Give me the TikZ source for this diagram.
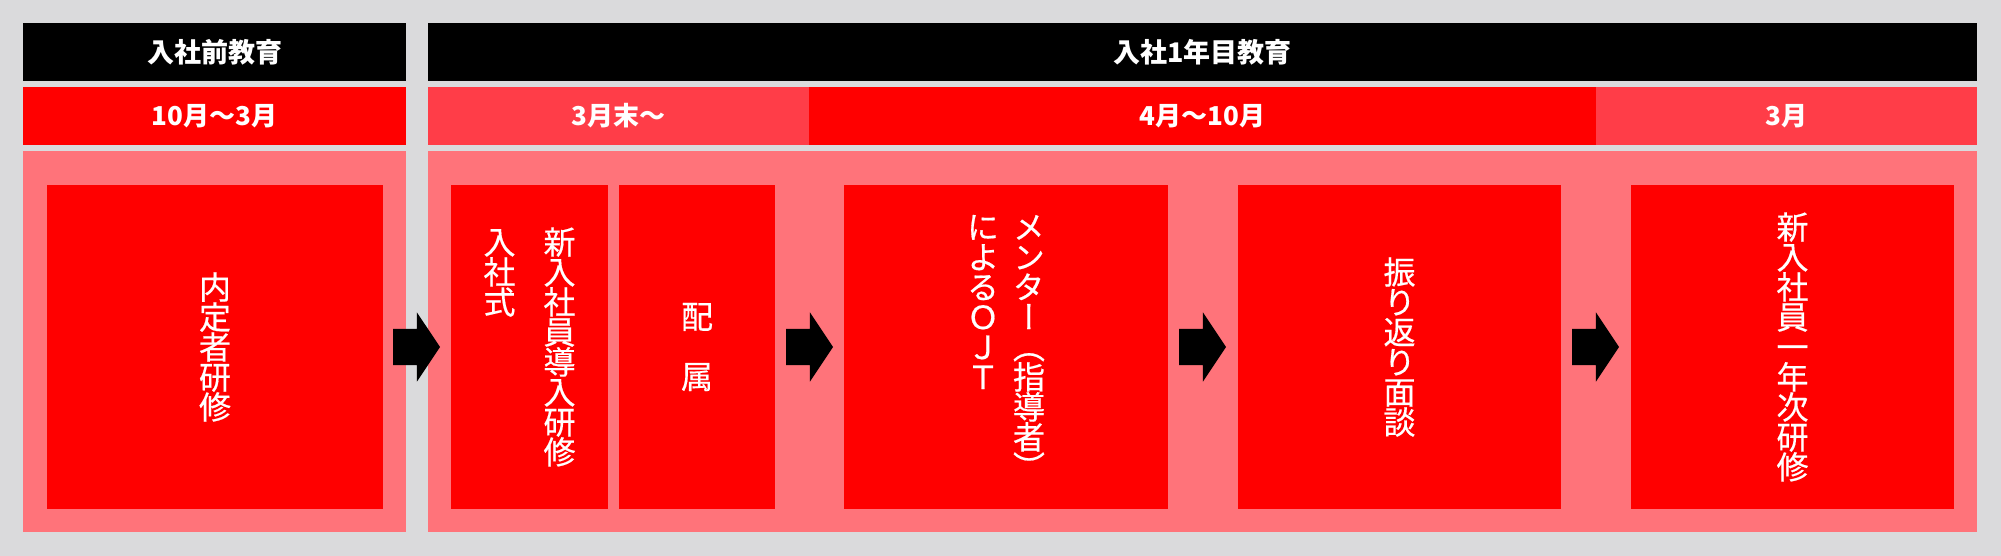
\documentclass[tikz,border=0pt]{standalone}
\usepackage{fontspec}
\newfontfamily\jpfont{Noto Sans CJK JP}
\newfontfamily\jptate[RawFeature=+vert,FakeBold=0.5]{Noto Sans CJK JP}
\usetikzlibrary{positioning,shapes.arrows}

\definecolor{bggray}{RGB}{218,218,220}
\definecolor{pinkbody}{RGB}{255,115,122}
\definecolor{lightred}{RGB}{255,61,72}

\newcommand{\tate}[1]{\vtop{\let\\\cr\baselineskip=30pt\lineskiplimit=-30pt\lineskip=0pt
    \halign{\hfil##\hfil\cr#1\cr}}}

\tikzset{
    every node/.style = {
        inner sep=0pt,
        outer sep=0pt,
        },
    title/.style = {
        fill = black,
        text = white,
        minimum height=58pt,
        font=\jpfont\bfseries\fontsize{27}{30}\selectfont,
        },
    period/.style = {
        fill = red,
        text = white,
        minimum height=58pt,
        font=\jpfont\bfseries\fontsize{26}{30}\selectfont,
        },
    period light/.style = {
        period,
        fill = lightred,
        },
    panel/.style = {
        fill = pinkbody,
        minimum height=381pt,
        },
    course/.style = {
        fill = red,
        text = white,
        minimum height=324pt,
        font=\jptate\fontsize{32}{30}\selectfont,
        },
    flow/.style = {
        single arrow,
        fill = black,
        inner xsep=0pt,
        inner ysep=18pt,
        minimum height=47pt,
        minimum width=69pt,
        single arrow head extend=16.5pt,
        single arrow tip angle=112.6,
    }
}

\begin{document}
\begin{tikzpicture}[x=1pt, y=-1pt]
            \fill[bggray] (0,0) rectangle (2001,556);

            \node[title, minimum width=383pt, anchor=north west] (pre) at (23,23) {入社前教育};
            \node[title, minimum width=1549pt, right=22pt of pre] (first) {入社1年目教育};

            \node[period, minimum width=383pt, below=6pt of pre] (octmar) {10月～3月};
            \node[period light, minimum width=381pt, below=6pt of first.south west, anchor=north west] (endmar) {3月末～};
            \node[period, minimum width=787pt, right=0pt of endmar] (aproct) {4月～10月};
            \node[period light, minimum width=381pt, right=0pt of aproct] (mar) {3月};

            \node[panel, minimum width=383pt, below=6pt of octmar] (prebody) {};
            \node[panel, minimum width=1549pt, below=6pt of endmar.south west, anchor=north west] (firstbody) {};

            \node[course, minimum width=336pt, below right=34pt and 24pt of prebody.north west] (naitei) {\tate{内\\定\\者\\研\\修}};
            \node[course, minimum width=157pt, below right=34pt and 23pt of firstbody.north west] (nyusha) {\tate{入\\社\\式}\hspace{28pt}\tate{新\\入\\社\\員\\導\\入\\研\\修}\hspace{10pt}};
            \node[course, minimum width=156pt, right=11pt of nyusha] (haizoku) {\tate{配\\　\\属}};
            \node[course, minimum width=324pt, right=69pt of haizoku] (mentor) {\tate{に\\よ\\る\\Ｏ\\Ｊ\\Ｔ}\hspace{14pt}\tate{メ\\ン\\タ\\ー\\︵\\指\\導\\者\\︶}};
            \node[course, minimum width=323pt, right=70pt of mentor] (furikaeri) {\tate{振\\り\\返\\り\\面\\談}};
            \node[course, minimum width=323pt, right=70pt of furikaeri] (ichinen) {\tate{新\\入\\社\\員\\一\\年\\次\\研\\修}};

            \node[flow, right=10pt of naitei, anchor=tail] (go1) {};
            \node[flow, right=11pt of haizoku, anchor=tail] (go2) {};
            \node[flow, right=11pt of mentor, anchor=tail] (go3) {};
            \node[flow, right=11pt of furikaeri, anchor=tail] (go4) {};
        \end{tikzpicture}
\end{document}
